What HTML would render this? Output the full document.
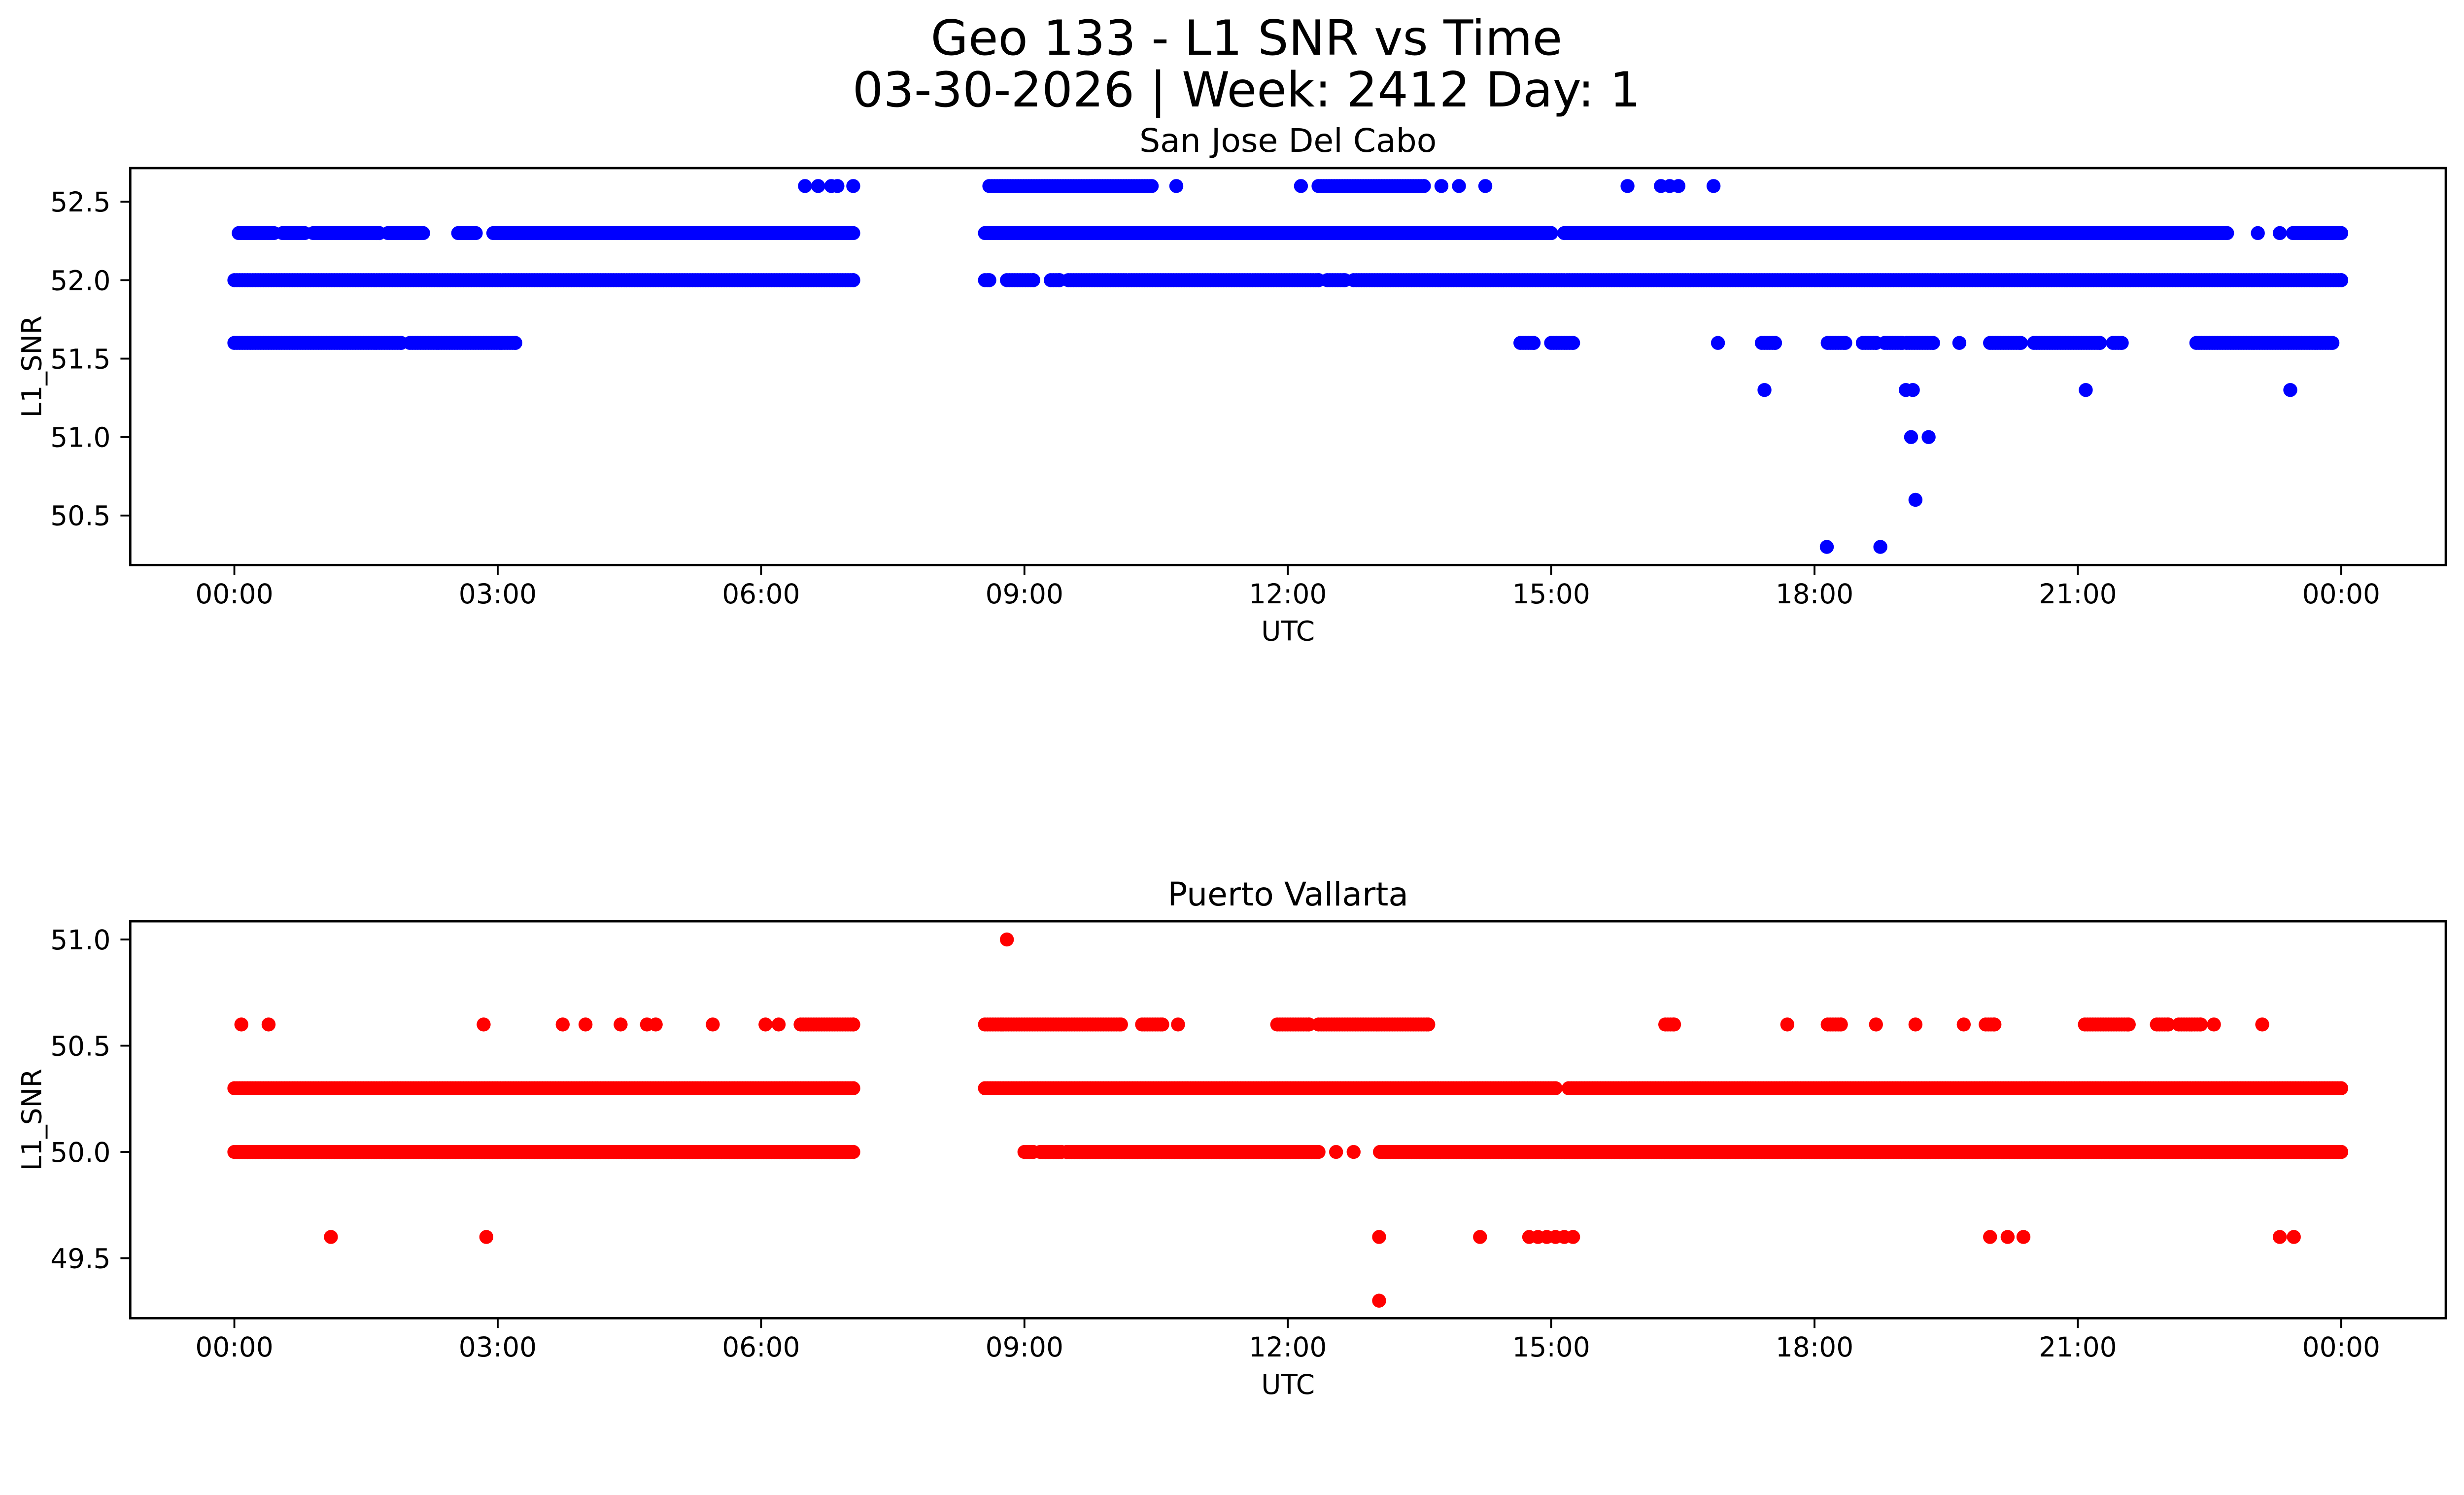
<!DOCTYPE html>
<html><head><meta charset="utf-8"><style>html,body{margin:0;padding:0;background:#fff;overflow:hidden}svg{display:block;width:100vw;height:57.4649vw}</style></head>
<body>
<svg id="fig" viewBox="0 0 5278 3033" preserveAspectRatio="none" xmlns="http://www.w3.org/2000/svg" font-family="'DejaVu Sans','Liberation Sans',sans-serif">
<rect width="5278" height="3033" fill="#fff"/>
<text x="2670" y="117" font-size="104" text-anchor="middle">Geo 133 - L1 SNR vs Time</text>
<text x="2670" y="228" font-size="104" text-anchor="middle">03-30-2026 | Week: 2412 Day: 1</text>
<g id="p1"></g>
<g id="p2"></g>
</svg>
<script>
// X ticks (hours)
const xTickHours = [0,3,6,9,12,15,18,21,24];
const xTickLabels = ["00:00","03:00","06:00","09:00","12:00","15:00","18:00","21:00","00:00"];

// San Jose Del Cabo: dense runs [start,end] per SNR level, plus isolated points
const sjLevels = [52.0, 52.3, 52.6, 51.6];
const sjRuns = [
  [[0.0,7.05],[8.55,8.6],[8.8,9.1],[9.3,9.4],[9.5,12.35],[12.45,12.65],[12.75,24.0]],
  [[0.05,0.45],[0.55,0.8],[0.9,1.65],[1.75,2.15],[2.55,2.75],[2.95,7.05],[8.55,15.0],[15.15,22.7],[23.45,24.0]],
  [[8.6,10.45],[12.35,13.55]],
  [[0.0,1.9],[2.0,3.2],[14.65,14.8],[15.0,15.25],[17.4,17.55],[18.15,18.35],[18.55,18.7],[18.8,19.0],[19.05,19.35],[20.0,20.35],[20.5,21.25],[21.4,21.5],[22.35,23.9]]
];
const sjPtTimes = [6.5,6.65,6.8,6.87,7.05,10.73,12.15,13.75,13.95,14.25,15.87,16.25,16.35,16.45,16.85,23.05,23.3,16.9,19.65,17.43,19.04,19.12,21.09,23.42,19.1,19.3,19.15,18.14,18.75];
const sjPtVals  = [52.6,52.6,52.6,52.6,52.6,52.6,52.6,52.6,52.6,52.6,52.6,52.6,52.6,52.6,52.6,52.3,52.3,51.6,51.6,51.3,51.3,51.3,51.3,51.3,51.0,51.0,50.6,50.3,50.3];
const sjYTicks = [50.5,51.0,51.5,52.0,52.5];
const sjYLabels = ["50.5","51.0","51.5","52.0","52.5"];

// Puerto Vallarta
const pvLevels = [50.3, 50.0, 50.6];
const pvRuns = [
  [[0.0,7.05],[8.55,15.05],[15.2,24.0]],
  [[0.0,7.05],[9.0,9.1],[9.18,9.42],[9.48,12.35],[13.05,24.0]],
  [[6.45,7.05],[8.55,10.1],[10.34,10.57],[11.88,12.24],[12.35,13.6],[16.3,16.4],[18.15,18.3],[19.95,20.05],[21.08,21.58],[21.9,22.03],[22.15,22.4]]
];
const pvPtTimes = [12.55,12.75,0.08,0.39,2.84,3.74,4.0,4.4,4.7,4.8,5.45,6.05,6.2,10.75,17.69,18.7,19.15,19.7,22.55,23.1,8.8,1.1,2.87,13.04,14.19,14.75,14.85,14.95,15.05,15.15,15.25,20.0,20.2,20.38,23.3,23.46,13.04];
const pvPtVals  = [50.0,50.0,50.6,50.6,50.6,50.6,50.6,50.6,50.6,50.6,50.6,50.6,50.6,50.6,50.6,50.6,50.6,50.6,50.6,50.6,51.0,49.6,49.6,49.6,49.6,49.6,49.6,49.6,49.6,49.6,49.6,49.6,49.6,49.6,49.6,49.6,49.3];
const pvYTicks = [49.5,50.0,50.5,51.0];
const pvYLabels = ["49.5","50.0","50.5","51.0"];

const NS = "http://www.w3.org/2000/svg";
function mk(tag, attrs, parent){const e=document.createElementNS(NS,tag);for(const k in attrs)e.setAttribute(k,attrs[k]);parent.appendChild(e);return e;}

function panel(g, cfg){
  const L=279,R=5239,T=cfg.top,B=cfg.bottom;
  const xs = h => 502 + h*(5015-502)/24;
  const ys = v => cfg.refY + (cfg.refV - v)*cfg.pxPerUnit;
  const t = mk("text",{x:(L+R)/2,y:cfg.titleY,"font-size":70,"text-anchor":"middle"},g);
  
  
  t.textContent=cfg.title;
  const pts = mk("g",{fill:cfg.color},g);
  
  
  const dot=(h,v)=>{const c=mk("circle",{cx:xs(h).toFixed(1),cy:ys(v).toFixed(1),r:15},pts);
    
    };
  cfg.runs.forEach((runs,i)=>{runs.forEach(r=>{for(let h=r[0];h<=r[1]+1e-9;h+=0.03)dot(h,cfg.levels[i]);dot(r[1],cfg.levels[i]);});});
  cfg.ptT.forEach((h,i)=>dot(h,cfg.ptV[i]));
  const frame = mk("rect",{x:L,y:T,width:R-L,height:B-T,fill:"none",stroke:"#000","stroke-width":5},g);
  
  
  xTickHours.forEach((h,i)=>{
    const x=xs(h);
    const tk=mk("line",{x1:x,x2:x,y1:B,y2:B+21,stroke:"#000","stroke-width":4},g);
    
    
    const lb=mk("text",{x:x,y:B+82,"font-size":58,"text-anchor":"middle"},g);
    
    
    lb.textContent=xTickLabels[i];
  });
  cfg.yt.forEach((v,i)=>{
    const y=ys(v);
    const tk=mk("line",{x1:L-21,x2:L,y1:y,y2:y,stroke:"#000","stroke-width":4},g);
    
    
    const lb=mk("text",{x:237,y:y+21,"font-size":58,"text-anchor":"end"},g);
    
    
    lb.textContent=cfg.yl[i];
  });
  const xl=mk("text",{x:(L+R)/2,y:B+162,"font-size":58,"text-anchor":"middle"},g);
  
  
  xl.textContent="UTC";
  const yc=(T+B)/2;
  const yl=mk("text",{x:88,y:yc,"font-size":58,"text-anchor":"middle",transform:`rotate(-90 88 ${yc})`},g);
  
  
  yl.textContent="L1_SNR";
}

panel(document.getElementById("p1"),{top:360,bottom:1210,refY:600,refV:52.0,pxPerUnit:336,titleY:325,title:"San Jose Del Cabo",color:"#0000ff",levels:sjLevels,runs:sjRuns,ptT:sjPtTimes,ptV:sjPtVals,yt:sjYTicks,yl:sjYLabels});
panel(document.getElementById("p2"),{top:1973,bottom:2823,refY:2467,refV:50.0,pxPerUnit:455,titleY:1939,title:"Puerto Vallarta",color:"#ff0000",levels:pvLevels,runs:pvRuns,ptT:pvPtTimes,ptV:pvPtVals,yt:pvYTicks,yl:pvYLabels});
</script>
</body></html>
